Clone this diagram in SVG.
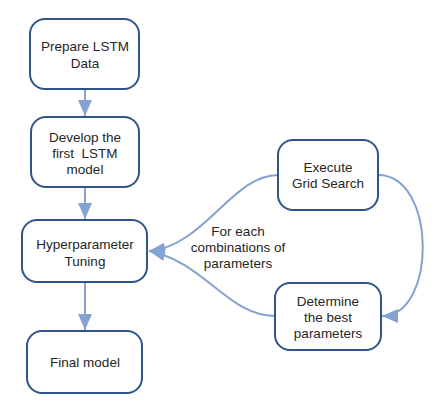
<svg xmlns="http://www.w3.org/2000/svg" width="441" height="409" viewBox="0 0 441 409">
<style>
.box{fill:#fff;stroke:#2f548a;stroke-width:2}
.lbl{font-family:"Liberation Sans",Arial,sans-serif;font-size:13.5px;fill:#262626;text-anchor:middle}
.con{fill:none;stroke:#86a2d2;stroke-width:2}
</style>
<defs>
<marker id="ah" markerUnits="userSpaceOnUse" markerWidth="18" markerHeight="14" refX="16" refY="7" orient="auto">
<path d="M0,0 L16,7 L0,14 Z" fill="#86a2d2"/>
</marker>
</defs>
<rect width="441" height="409" fill="#fff"/>
<g id="connectors">
<path class="con" d="M85 89 V116" marker-end="url(#ah)"/>
<path class="con" d="M85 187 V219" marker-end="url(#ah)"/>
<path class="con" d="M85 282 V330" marker-end="url(#ah)"/>
<path class="con" d="M278 175 C232 175 205 246 149 251" marker-end="url(#ah)"/>
<path class="con" d="M275 316 C228 316 205 262 149 251" marker-end="url(#ah)"/>
<path class="con" d="M378 175 C437 175 437 316 382 316" marker-end="url(#ah)"/>
<text class="lbl" x="238" y="236">For each</text>
<text class="lbl" x="238" y="252">combinations of</text>
<text class="lbl" x="238" y="268">parameters</text>
</g>
<g id="prepare">
<rect class="box" x="30" y="19" width="109" height="70" rx="15"/>
<text class="lbl" x="85" y="51">Prepare LSTM</text>
<text class="lbl" x="85" y="68">Data</text>
</g>
<g id="develop">
<rect class="box" x="31" y="117" width="108" height="70" rx="15"/>
<text class="lbl" x="85" y="142">Develop the</text>
<text class="lbl" x="85" y="158" xml:space="preserve">first  LSTM</text>
<text class="lbl" x="85" y="174">model</text>
</g>
<g id="hyper">
<rect class="box" x="22" y="220" width="125" height="62" rx="15"/>
<text class="lbl" x="85" y="249">Hyperparameter</text>
<text class="lbl" x="85" y="266">Tuning</text>
</g>
<g id="final">
<rect class="box" x="27" y="331" width="115" height="62" rx="15"/>
<text class="lbl" x="85" y="367">Final model</text>
</g>
<g id="execute">
<rect class="box" x="278" y="140" width="100" height="70" rx="15"/>
<text class="lbl" x="328" y="172">Execute</text>
<text class="lbl" x="328" y="188">Grid Search</text>
</g>
<g id="determine">
<rect class="box" x="275" y="283" width="106" height="67" rx="15"/>
<text class="lbl" x="328" y="306">Determine</text>
<text class="lbl" x="328" y="322">the best</text>
<text class="lbl" x="328" y="338">parameters</text>
</g>
</svg>
